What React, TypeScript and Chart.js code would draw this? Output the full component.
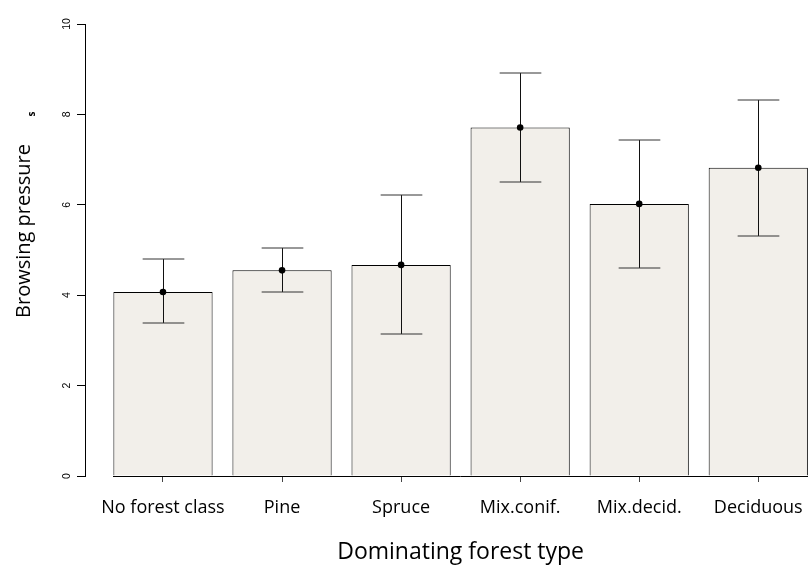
import React, { useEffect, useRef } from 'react';
import { Chart, registerables } from 'chart.js';

Chart.register(...registerables);

const categories = ['No forest class', 'Pine', 'Spruce', 'Mix.conif.', 'Mix.decid.', 'Deciduous'];
const means = [4.07, 4.55, 4.67, 7.71, 6.02, 6.82];
const upper = [4.8, 5.05, 6.21, 8.91, 7.43, 8.31];
const lower = [3.38, 4.07, 3.14, 6.5, 4.61, 5.32];
const yTicks = [0, 2, 4, 6, 8, 10];
const yTitle = 'Browsing pressure';
const xTitle = 'Dominating forest type';
const strayMark = 's';

const FONT = '"Open Sans", sans-serif';

const extras = {
  id: 'extras',
  afterDatasetDraw(chart: any, args: any) {
    if (args.index !== 0) return;
    const ctx = chart.ctx;
    const ys = chart.scales.y;
    const meta = chart.getDatasetMeta(0);
    ctx.save();
    meta.data.forEach((bar: any, i: number) => {
      const x = Math.round(bar.x) + 0.5;
      const yu = Math.round(ys.getPixelForValue(upper[i]));
      const yl = Math.round(ys.getPixelForValue(lower[i]));
      const half = bar.width * 0.21;
      ctx.lineWidth = 1;
      ctx.strokeStyle = '#111';
      ctx.beginPath();
      ctx.moveTo(x, yu);
      ctx.lineTo(x, yl);
      ctx.stroke();
      ctx.strokeStyle = '#333';
      ctx.beginPath();
      ctx.moveTo(x - half, yu);
      ctx.lineTo(x + half, yu);
      ctx.moveTo(x - half, yl);
      ctx.lineTo(x + half, yl);
      ctx.stroke();
    });
    ctx.restore();
  },
  afterDraw(chart: any) {
    const ctx = chart.ctx;
    const ys = chart.scales.y;
    const area = chart.chartArea;
    const bars = chart.getDatasetMeta(0).data;
    const first = bars[0];
    const last = bars[bars.length - 1];
    ctx.save();
    // x axis line spanning the bars
    const by = Math.round(area.bottom) + 0.5;
    ctx.strokeStyle = '#000';
    ctx.lineWidth = 1;
    ctx.beginPath();
    ctx.moveTo(Math.round(first.x - first.width / 2), by);
    ctx.lineTo(Math.round(last.x + last.width / 2), by);
    ctx.stroke();

    // y tick labels, rotated
    ctx.fillStyle = '#000';
    ctx.font = '10.5px "Liberation Sans", Arial, sans-serif';
    ctx.textAlign = 'center';
    ctx.textBaseline = 'alphabetic';
    yTicks.forEach((t) => {
      const py = ys.getPixelForValue(t);
      ctx.save();
      ctx.translate(70, py);
      ctx.rotate(-Math.PI / 2);
      ctx.fillText(String(t), 0, 0);
      ctx.restore();
    });

    // y title
    ctx.save();
    ctx.font = '20px ' + FONT;
    ctx.translate(30, 231);
    ctx.rotate(-Math.PI / 2);
    ctx.fillText(yTitle, 0, 0);
    ctx.restore();

    // stray mark
    ctx.save();
    ctx.font = 'bold 10px ' + FONT;
    ctx.translate(35, 114);
    ctx.rotate(-Math.PI / 2);
    ctx.fillText(strayMark, 0, 0);
    ctx.restore();

    // x title
    ctx.font = '23px ' + FONT;
    ctx.textAlign = 'center';
    ctx.fillText(xTitle, (first.x + last.x) / 2, 559);
    ctx.restore();
  },
};

export default function App() {
  const ref = useRef<HTMLCanvasElement | null>(null);
  useEffect(() => {
    document.body.style.margin = '0';
    const canvas = ref.current;
    if (!canvas) return;
    const chart = new Chart(canvas, {
      type: 'bar',
      data: {
        datasets: [
          {
            type: 'bar',
            data: means.map((v, i) => ({ x: i, y: v })),
            backgroundColor: '#F2EFEA',
            borderColor: '#000',
            borderWidth: 1,
            borderSkipped: 'bottom',
            categoryPercentage: 1,
            barPercentage: 1 / 1.2,
            order: 2,
          } as any,
          {
            type: 'scatter',
            data: means.map((v, i) => ({ x: i, y: v })),
            pointRadius: 3.3,
            pointBackgroundColor: '#000',
            pointBorderColor: '#000',
            pointBorderWidth: 0,
            clip: false,
            order: 1,
          } as any,
        ],
      },
      options: {
        responsive: false,
        animation: false,
        devicePixelRatio: 1,
        layout: { autoPadding: false, padding: { top: 24, right: 0, left: 0, bottom: 0 } },
        plugins: { legend: { display: false }, tooltip: { enabled: false } },
        scales: {
          x: {
            type: 'linear',
            min: -0.655,
            max: 5.426,
            offset: false,
            afterFit: (s: any) => {
              s.height = 89;
              s.paddingLeft = 0;
              s.paddingRight = 0;
            },
            afterBuildTicks: (s: any) => {
              s.ticks = categories.map((_, i) => ({ value: i }));
            },
            ticks: {
              autoSkip: false,
              maxRotation: 0,
              minRotation: 0,
              padding: 15,
              color: '#000',
              font: { family: FONT, size: 18 },
              callback: (v: any) => categories[v as number] ?? '',
            },
            grid: {
              offset: false,
              drawOnChartArea: false,
              drawTicks: true,
              tickLength: 6,
              color: '#444',
            },
            border: { display: false },
          },
          y: {
            min: 0,
            max: 10,
            afterFit: (s: any) => {
              s.width = 85;
            },
            afterBuildTicks: (s: any) => {
              s.ticks = yTicks.map((v) => ({ value: v }));
            },
            ticks: { display: false },
            grid: {
              drawOnChartArea: false,
              drawTicks: true,
              tickLength: 8,
              color: '#000',
            },
            border: { display: true, color: '#000' },
          },
        },
      },
      plugins: [extras],
    } as any);
    return () => chart.destroy();
  }, []);
  return <canvas ref={ref} width={809} height={565} style={{ display: 'block' }} />;
}
